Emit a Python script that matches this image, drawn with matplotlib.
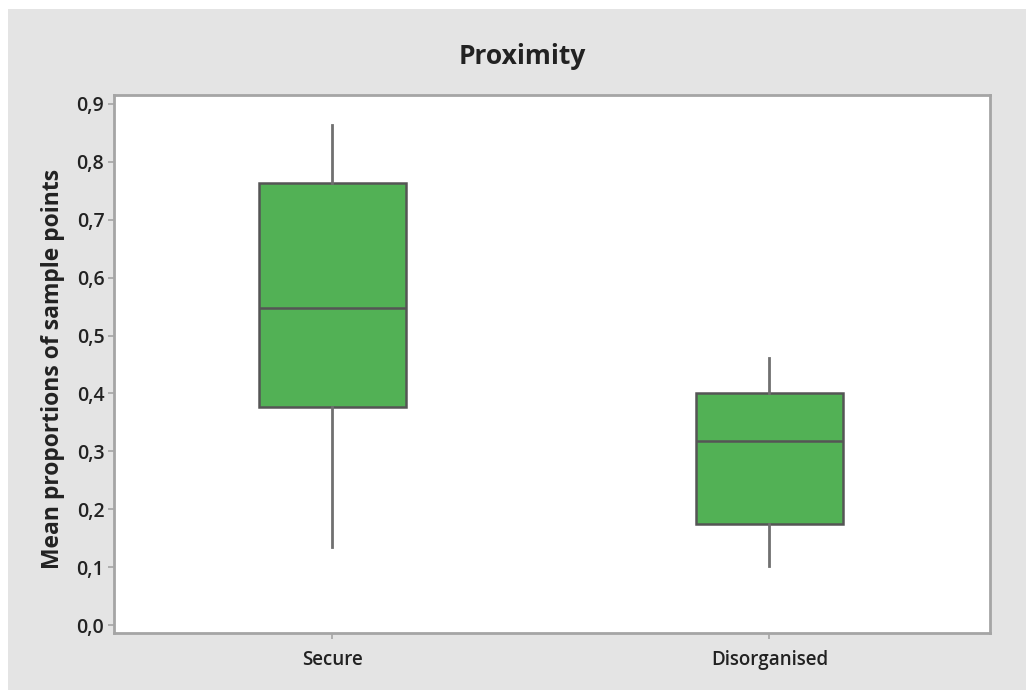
import matplotlib.pyplot as plt
from matplotlib.patches import Rectangle

# =========================
# Data: box summary per group
# =========================
groups = ["Secure", "Disorganised"]
whisker_low = [0.135, 0.102]
q1 = [0.376, 0.175]
median = [0.547, 0.317]
q3 = [0.764, 0.400]
whisker_high = [0.864, 0.462]

yticks = [0.0, 0.1, 0.2, 0.3, 0.4, 0.5, 0.6, 0.7, 0.8, 0.9]
ytick_labels = ["0,0", "0,1", "0,2", "0,3", "0,4", "0,5", "0,6", "0,7", "0,8", "0,9"]

# =========================
# Style
# =========================
plt.rcParams["font.family"] = ["Open Sans", "DejaVu Sans"]
panel_color = "#e4e4e4"
box_color = "#52b155"
edge_color = "#555555"
whisker_color = "#707070"
spine_color = "#a5a5a5"
text_color = "#222222"

fig = plt.figure(figsize=(10.26, 6.9), dpi=100, facecolor="white")
# grey panel, leaving a thin white strip at top and left
fig.patches.append(Rectangle((8 / 1026, 0), 1, 1 - 9 / 690, transform=fig.transFigure,
                             facecolor=panel_color, edgecolor="none", zorder=-10))

ax = fig.add_axes([114 / 1026, 57 / 690, 876 / 1026, 538 / 690])
ax.set_facecolor("white")

stats = []
for i in range(len(groups)):
    stats.append({
        "label": groups[i],
        "whislo": whisker_low[i],
        "q1": q1[i],
        "med": median[i],
        "q3": q3[i],
        "whishi": whisker_high[i],
        "fliers": [],
    })

ax.bxp(stats, positions=[1, 2], widths=0.337, patch_artist=True, showcaps=False,
       boxprops=dict(facecolor=box_color, edgecolor=edge_color, linewidth=1.8),
       medianprops=dict(color=edge_color, linewidth=1.8),
       whiskerprops=dict(color=whisker_color, linewidth=2.0))

ax.set_xlim(0.5, 2.505)
ax.set_ylim(-0.0138, 0.9155)
ax.set_yticks(yticks)
ax.set_yticklabels(ytick_labels)
ax.set_xticks([1, 2])
ax.set_xticklabels(groups)

for side in ["left", "bottom", "right", "top"]:
    ax.spines[side].set_color(spine_color)
    ax.spines[side].set_linewidth(2.0)

ax.tick_params(axis="y", direction="out", length=4, width=1.2, color=spine_color,
               labelsize=14, labelcolor=text_color, pad=3)
ax.tick_params(axis="x", direction="out", length=4, width=1.2, color=spine_color,
               labelsize=13.5, labelcolor=text_color, pad=8)
for lab in ax.get_yticklabels() + ax.get_xticklabels():
    lab.set_fontweight("semibold")

ax.set_ylabel("Mean proportions of sample points", fontsize=16.5, fontweight="bold",
              color=text_color)
ax.yaxis.set_label_coords(-0.056, 0.49)
fig.text(0.509, 1 - 57 / 690, "Proximity", ha="center", va="center",
         fontsize=19, fontweight="bold", color=text_color)

plt.savefig("out.png", dpi=100, facecolor=fig.get_facecolor())
